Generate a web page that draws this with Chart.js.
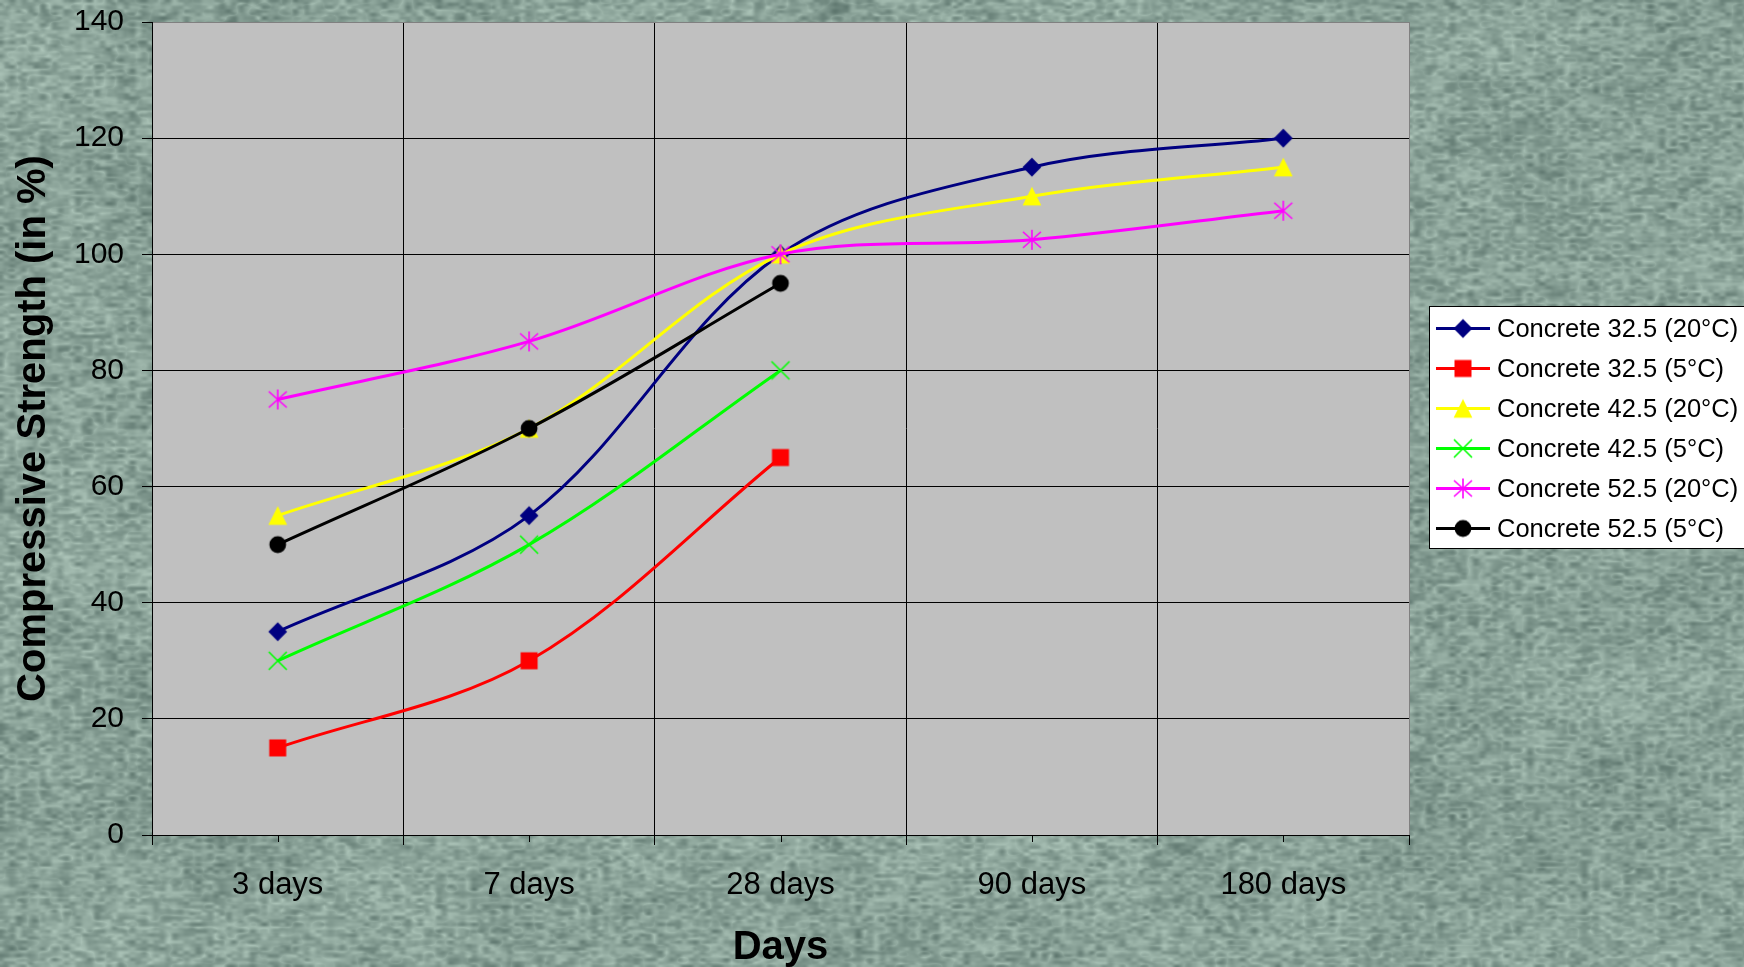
<!DOCTYPE html>
<html>
<head>
<meta charset="utf-8">
<title>Compressive Strength</title>
<script src="https://cdn.jsdelivr.net/npm/chart.js@4.4.1/dist/chart.umd.min.js"></script>
<style>
  html, body { margin: 0; padding: 0; overflow: hidden; background: #87a096; }
  #wrap { position: relative; width: 1744px; height: 967px; }
  #stone, #chart { position: absolute; left: 0; top: 0; }
</style>
</head>
<body>
<div id="wrap">
  <canvas id="stone" width="1744" height="967"></canvas>
  <canvas id="chart" width="1744" height="967"></canvas>
</div>
<script>
// ---- data ----
const categories = ['3 days', '7 days', '28 days', '90 days', '180 days'];
const yTickValues = [0, 20, 40, 60, 80, 100, 120, 140];

const seriesNames = [
  'Concrete 32.5 (20°C)',
  'Concrete 32.5 (5°C)',
  'Concrete 42.5 (20°C)',
  'Concrete 42.5 (5°C)',
  'Concrete 52.5 (20°C)',
  'Concrete 52.5 (5°C)'
];
const concrete325At20 = [35, 55, 100, 115, 120];
const concrete325At5  = [15, 30, 65, null, null];
const concrete425At20 = [55, 70, 100, 110, 115];
const concrete425At5  = [30, 50, 80, null, null];
const concrete525At20 = [75, 85, 100, 102.5, 107.5];
const concrete525At5  = [50, 70, 95, null, null];

const seriesValues = [concrete325At20, concrete325At5, concrete425At20, concrete425At5, concrete525At20, concrete525At5];
const seriesColors = ['#000080', '#ff0000', '#ffff00', '#00ff00', '#ff00ff', '#000000'];
const seriesMarkers = ['diamond', 'square', 'triangle', 'x', 'star', 'circle'];

const FONT = "'Liberation Sans', Arial, Helvetica, sans-serif";

// ---- stone-like page background ----
function paintStone(canvas) {
  const w = canvas.width, h = canvas.height, g = canvas.getContext('2d');
  const img = g.createImageData(w, h), d = img.data;
  const hash = (x, y, s) => {
    let n = Math.imul(x, 374761393) ^ Math.imul(y, 668265263) ^ Math.imul(s, 982451653);
    n = Math.imul(n ^ (n >>> 13), 1274126177);
    n ^= n >>> 16;
    return (n >>> 0) / 4294967296;
  };
  const smooth = t => t * t * (3 - 2 * t);
  function vnoise(x, y, cw, ch, seed) {
    const gx = x / cw, gy = y / ch;
    const ix = Math.floor(gx), iy = Math.floor(gy);
    const fx = smooth(gx - ix), fy = smooth(gy - iy);
    const a = hash(ix, iy, seed), b = hash(ix + 1, iy, seed);
    const c = hash(ix, iy + 1, seed), e = hash(ix + 1, iy + 1, seed);
    const top = a + (b - a) * fx, bot = c + (e - c) * fx;
    return top + (bot - top) * fy;
  }
  for (let y = 0; y < h; y++) {
    for (let x = 0; x < w; x++) {
      const fine = vnoise(x, y, 6, 3.5, 1);
      const ridge = 1 - Math.abs(2 * vnoise(x, y, 11, 6, 2) - 1);
      const broad = vnoise(x, y, 70, 45, 3);
      const v = 0.45 * fine + 0.35 * ridge + 0.2 * broad;
      const s = (v - 0.55) * 85;
      const i = (y * w + x) * 4;
      d[i] = 136 + s;
      d[i + 1] = 160 + s;
      d[i + 2] = 150 + s * 0.95;
      d[i + 3] = 255;
    }
  }
  g.putImageData(img, 0, 0);
}
paintStone(document.getElementById('stone'));

// ---- marker images ----
function makeMarker(kind, color) {
  const size = 22, m = size / 2;
  const c = document.createElement('canvas');
  c.width = size; c.height = size;
  const g = c.getContext('2d');
  g.fillStyle = color; g.strokeStyle = color;
  g.beginPath();
  switch (kind) {
    case 'diamond':
      g.moveTo(m, m - 9.4); g.lineTo(m + 9.4, m); g.lineTo(m, m + 9.4); g.lineTo(m - 9.4, m);
      g.closePath(); g.fill();
      break;
    case 'square':
      g.fillRect(m - 8.5, m - 8.5, 17, 17);
      break;
    case 'triangle':
      g.moveTo(m, m - 9.4); g.lineTo(m + 9.4, m + 9.2); g.lineTo(m - 9.4, m + 9.2);
      g.closePath(); g.fill();
      break;
    case 'x':
      g.lineWidth = 1.6;
      g.moveTo(m - 9, m - 9); g.lineTo(m + 9, m + 9);
      g.moveTo(m + 9, m - 9); g.lineTo(m - 9, m + 9);
      g.stroke();
      break;
    case 'star':
      g.lineWidth = 1.6;
      g.moveTo(m, m - 10); g.lineTo(m, m + 10);
      g.moveTo(m - 9, m - 8); g.lineTo(m + 9, m + 8);
      g.moveTo(m + 9, m - 8); g.lineTo(m - 9, m + 8);
      g.stroke();
      break;
    case 'circle':
      g.arc(m, m, 8.4, 0, Math.PI * 2); g.fill();
      break;
  }
  return c;
}
const markerImages = seriesMarkers.map((k, i) => makeMarker(k, seriesColors[i]));

// ---- plot area fill, category centre ticks and legend box ----
const plotFrame = {
  id: 'plotFrame',
  beforeDraw(chart) {
    const { ctx, chartArea: a } = chart;
    ctx.save();
    ctx.fillStyle = '#c0c0c0';
    ctx.fillRect(a.left, a.top, a.right - a.left, a.bottom - a.top);
    ctx.restore();
  },
  afterDraw(chart) {
    const { ctx, chartArea: a } = chart;
    const xs = chart.scales.x;
    ctx.save();
    // short ticks under each category
    ctx.strokeStyle = '#000';
    ctx.lineWidth = 1;
    ctx.beginPath();
    categories.forEach((c, i) => {
      const px = Math.round(xs.getPixelForValue(i)) + 0.5;
      ctx.moveTo(px, a.bottom);
      ctx.lineTo(px, a.bottom + 7);
    });
    ctx.stroke();

    // legend
    const lx = 1429.5, ly = 306.5, lw = 330, lh = 242;
    ctx.fillStyle = '#ffffff';
    ctx.fillRect(lx, ly, lw, lh);
    ctx.strokeStyle = '#000';
    ctx.lineWidth = 1;
    ctx.strokeRect(lx, ly, lw, lh);
    ctx.font = '25.5px ' + FONT;
    ctx.textBaseline = 'middle';
    ctx.textAlign = 'left';
    seriesNames.forEach((name, i) => {
      const y = 328.5 + i * 40;
      ctx.strokeStyle = seriesColors[i];
      ctx.lineWidth = 3;
      ctx.beginPath();
      ctx.moveTo(1436, y);
      ctx.lineTo(1490, y);
      ctx.stroke();
      const img = markerImages[i];
      ctx.drawImage(img, 1463 - img.width / 2, y - img.height / 2);
      ctx.fillStyle = '#000';
      ctx.fillText(name, 1497, y + 1);
    });
    ctx.restore();
  }
};

const datasets = seriesNames.map((name, i) => ({
  label: name,
  data: seriesValues[i],
  borderColor: seriesColors[i],
  backgroundColor: seriesColors[i],
  borderWidth: 3,
  tension: 0.34,
  pointStyle: markerImages[i],
  pointRadius: 10,
  pointHoverRadius: 10,
  fill: false,
  spanGaps: false,
  order: seriesNames.length - 1 - i
}));

new Chart(document.getElementById('chart'), {
  type: 'line',
  data: { labels: categories, datasets },
  plugins: [plotFrame],
  options: {
    responsive: false,
    animation: false,
    devicePixelRatio: 1,
    layout: { padding: { top: 22, right: 335, left: 0, bottom: 0 } },
    plugins: {
      legend: { display: false },
      tooltip: { enabled: false }
    },
    scales: {
      x: {
        type: 'category',
        offset: true,
        afterFit: s => { s.height = 132; s.paddingLeft = 0; s.paddingRight = 0; },
        grid: {
          offset: true,
          color: c => (c.type === 'scale' ? '#808080' : '#000000'),
          tickColor: '#000000',
          tickLength: 10,
          lineWidth: 1
        },
        border: { color: '#000000', width: 1 },
        ticks: {
          color: '#000000',
          font: { family: FONT, size: 31 },
          padding: 21.5,
          maxRotation: 0,
          autoSkip: false
        },
        title: {
          display: true,
          text: 'Days',
          color: '#000000',
          font: { family: FONT, size: 40, weight: 'bold', lineHeight: 0.96 },
          padding: { top: 0, bottom: 0 }
        }
      },
      y: {
        min: 0,
        max: 140,
        afterFit: s => { s.width = 152; s.paddingTop = 0; s.paddingBottom = 0; },
        afterBuildTicks: s => { s.ticks = yTickValues.map(v => ({ value: v })); },
        grid: {
          color: c => (c.tick && c.tick.value === 140 ? '#808080' : '#000000'),
          tickColor: '#000000',
          tickLength: 10,
          lineWidth: 1
        },
        border: { color: '#000000', width: 1 },
        ticks: {
          color: '#000000',
          font: { family: FONT, size: 30 },
          padding: 18
        },
        title: {
          display: true,
          text: 'Compressive Strength (in %)',
          color: '#000000',
          font: { family: FONT, size: 40, weight: 'bold' },
          padding: { top: 9.5, bottom: 0 }
        }
      }
    }
  }
});
</script>
</body>
</html>
